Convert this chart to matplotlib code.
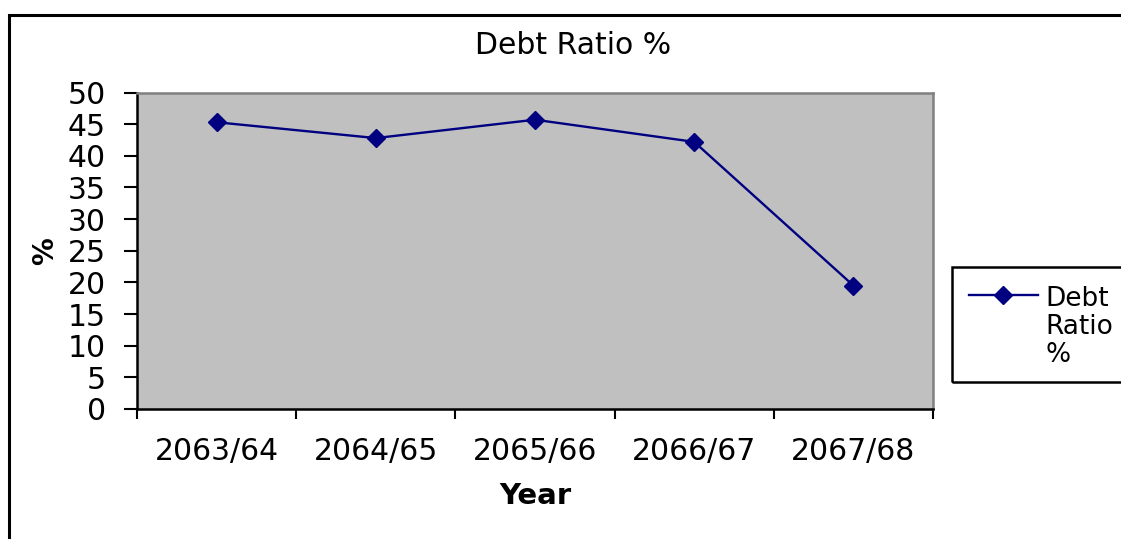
import matplotlib.pyplot as plt
from matplotlib.patches import Rectangle

# Debt ratio by fiscal year
years = ["2063/64", "2064/65", "2065/66", "2066/67", "2067/68"]
debt_ratio = [45.3, 42.8, 45.7, 42.2, 19.5]

plt.rcParams['font.family'] = ['DejaVu Sans']

W, H = 1121, 539
fig = plt.figure(figsize=(W / 100, H / 100), dpi=100)
fig.patch.set_facecolor("white")

# outer chart border (runs off the right and bottom edges)
fig.patches.append(Rectangle((9 / W, -0.05), 1.1, 1 - 15 / H + 0.05,
                             transform=fig.transFigure, fill=False,
                             edgecolor="black", linewidth=2.2))

ax = fig.add_axes([137 / W, 1 - 409 / H, (933 - 137) / W, (409 - 92.5) / H])
ax.set_facecolor("#c0c0c0")

x = list(range(len(years)))
line, = ax.plot(x, debt_ratio, color="#000080", linewidth=1.7,
                marker="D", markersize=9, label="Debt\nRatio\n%")

ax.set_xlim(-0.5, len(years) - 0.5)
ax.set_ylim(0, 50)
ax.set_yticks(range(0, 51, 5))
ax.set_xticks(x)
ax.set_xticklabels(years)
ax.set_xticks([i - 0.5 for i in range(len(years) + 1)], minor=True)

ax.tick_params(axis="y", direction="out", length=9.5, width=1.5,
               labelsize=21.5, pad=13)
ax.tick_params(axis="x", which="major", length=0, labelsize=21.5, pad=20)
ax.tick_params(axis="x", which="minor", direction="out", length=7, width=1.5)

for side in ("left", "bottom"):
    ax.spines[side].set_color("black")
    ax.spines[side].set_linewidth(1.8)
for side in ("top", "right"):
    ax.spines[side].set_color("#808080")
    ax.spines[side].set_linewidth(1.8)

ax.set_xlabel("Year", fontsize=21, fontweight="bold", labelpad=12)
ax.set_ylabel("%", fontsize=20, fontweight="bold", labelpad=6)

fig.text(573 / W, 1 - 46 / H, "Debt Ratio %", fontsize=21.5,
         ha="center", va="center")

# legend box, also cut by the right edge
fig.patches.append(Rectangle((952 / W, 1 - 382 / H), 0.2, (382 - 267) / H,
                             transform=fig.transFigure, fill=False,
                             edgecolor="black", linewidth=1.8))
leg = fig.legend(handles=[line], loc="upper left",
                 bbox_to_anchor=(969 / W, 1 - 286 / H), frameon=False,
                 fontsize=19, handlelength=2.6, handletextpad=0.3,
                 borderpad=0, borderaxespad=0, labelspacing=0)
for t in leg.get_texts():
    t.set_linespacing(1.1)
# put the marker beside the first line of the label
for column in leg._legend_handle_box.get_children():
    for row in column.get_children():
        row.align = "top"

fig.savefig("out.png", dpi=100)
